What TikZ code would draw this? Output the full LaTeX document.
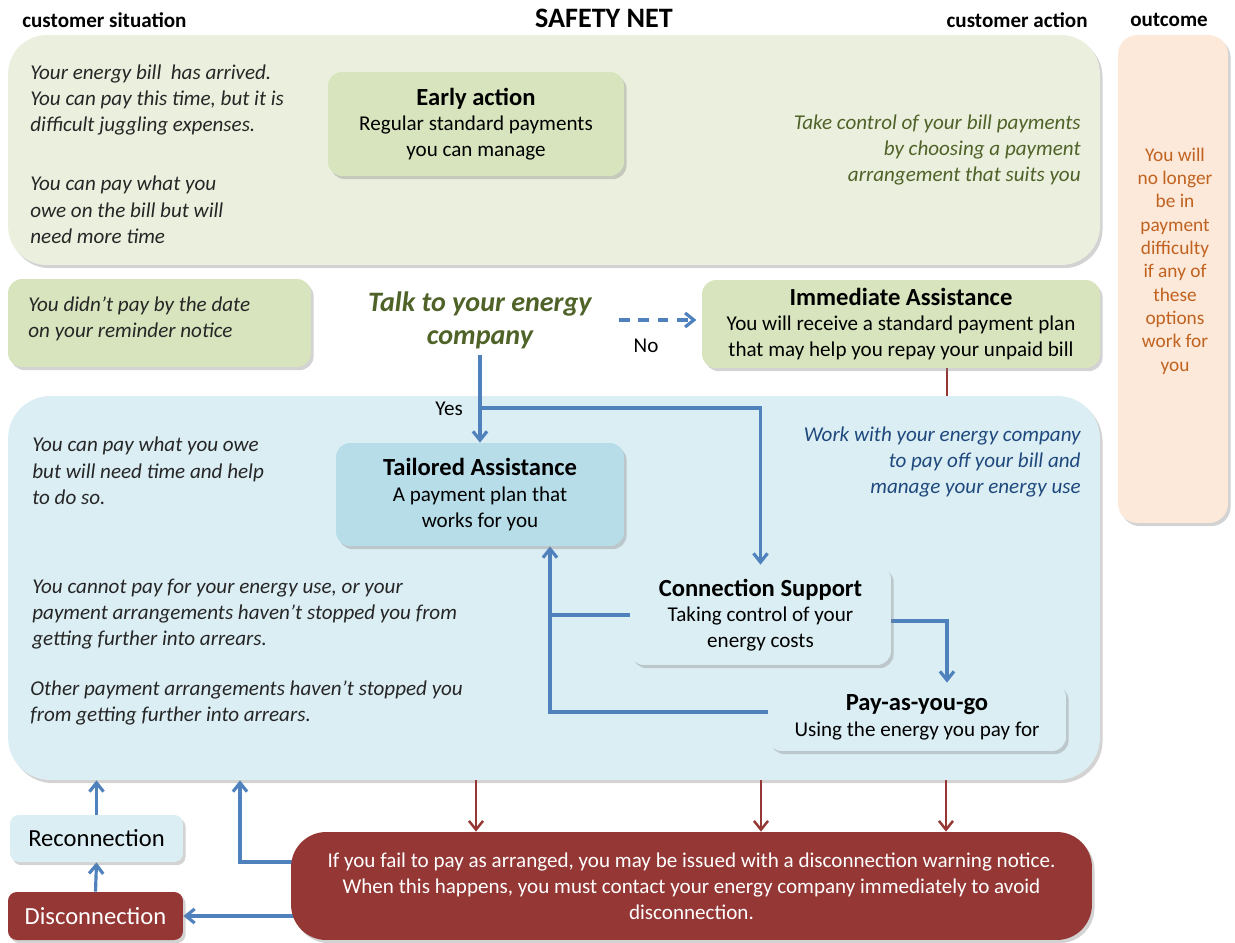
\documentclass[tikz,border=0pt]{standalone}
\usepackage{fontspec}
\setmainfont{Carlito}
\usetikzlibrary{arrows.meta,shadows}

\definecolor{panelgreen}{RGB}{235,240,222}
\definecolor{boxgreen}{RGB}{215,228,189}
\definecolor{panelblue}{RGB}{219,238,244}
\definecolor{boxblue}{RGB}{183,221,232}
\definecolor{paneloutcome}{RGB}{253,233,217}
\definecolor{textoutcome}{RGB}{192,98,32}
\definecolor{textolive}{RGB}{79,98,40}
\definecolor{textnavy}{RGB}{31,73,125}
\definecolor{textdark}{RGB}{38,38,38}
\definecolor{linkblue}{RGB}{79,129,189}
\definecolor{warnred}{RGB}{149,55,53}

\pgfdeclarelayer{panel}
\pgfdeclarelayer{background}
\pgfsetlayers{panel,background,main}

\newcommand{\boxhead}[1]{{\fontsize{14}{17}\selectfont\bfseries #1}}

\tikzset{
  softshadow/.style={drop shadow={shadow xshift=1.5pt,shadow yshift=-1.8pt,opacity=.35}},
  gpanel/.style={fill=panelgreen,rounded corners=22pt,softshadow},
  bpanel/.style={fill=panelblue,rounded corners=24pt,softshadow},
  opanel/.style={fill=paneloutcome,rounded corners=11pt,softshadow},
  gbox/.style={fill=boxgreen,rounded corners=8pt,softshadow,align=center,inner sep=0pt,text=black},
  tbox/.style={gbox,fill=boxblue},
  lbox/.style={gbox,fill=panelblue},
  rbox/.style={gbox,fill=warnred,text=white},
  head/.style={font=\fontsize{12}{14}\selectfont\bfseries,inner sep=0pt},
  sitnote/.style={anchor=west,align=left,inner sep=0pt,text=textdark,font=\fontsize{12}{15}\selectfont\itshape},
  actnote/.style={anchor=east,align=right,inner sep=0pt,font=\fontsize{12}{15}\selectfont\itshape},
  outnote/.style={align=center,inner sep=0pt,text=textoutcome,font=\fontsize{11}{13.3}\selectfont},
  talknote/.style={align=center,text=textolive,font=\fontsize{16}{18.7}\selectfont\bfseries\itshape},
  plainnote/.style={inner sep=0pt,font=\fontsize{12}{14}\selectfont},
  bluearrow/.style={draw=linkblue,line width=1.8pt,-{Straight Barb[length=5pt,width=8pt]}},
  blueline/.style={draw=linkblue,line width=1.8pt},
  redarrow/.style={draw=warnred,line width=1.4pt,-{Straight Barb[length=5pt,width=8pt]}},
  redline/.style={draw=warnred,line width=1.4pt}
}

\begin{document}
\begin{tikzpicture}[x=0.02cm,y=-0.02cm,font=\fontsize{12}{14.7}\selectfont]
\useasboundingbox (0,0) rectangle (1235,943);

\begin{pgfonlayer}{panel}
\node[gpanel,minimum width=21.84cm,minimum height=4.6cm] (greenpanel) at (554,150) {};
\node[bpanel,minimum width=21.84cm,minimum height=7.68cm] (bluepanel) at (554,588) {};
\node[opanel,minimum width=2.2cm,minimum height=9.76cm] (outpanel) at (1173,279) {};
\end{pgfonlayer}

\node[head,anchor=west] (hsit) at (22,20) {customer situation};
\node[inner sep=0pt,font=\fontsize{16}{19}\selectfont\bfseries] (title) at (604,18) {SAFETY NET};
\node[head,anchor=east] (hact) at (1088,20) {customer action};
\node[head] (hout) at (1169,20) {outcome};

\node[sitnote] (sit1) at (30,100) {Your energy bill\ \ has arrived.\\You can pay this time, but it is\\difficult juggling expenses.};
\node[gbox,minimum width=5.92cm,minimum height=2.08cm] (early) at (476,124) {\boxhead{Early action}\\Regular standard payments\\you can manage};
\node[sitnote] (sit2) at (30,210) {You can pay what you\\owe on the bill but will\\need more time};
\node[actnote,text=textolive] (act1) at (1081,150) {Take control of your bill payments\\by choosing a payment\\arrangement that suits you};
\node[outnote] (outtext) at (1175,261) {You will\\no longer\\be in\\payment\\difficulty\\if any of\\these\\options\\work for\\you};

\node[gbox,minimum width=6.06cm,minimum height=1.76cm] (late) at (159.5,323) {};
\node[sitnote] (latetext) at (28,319) {You didn’t pay by the date\\on your reminder notice};
\node[talknote] (talk) at (480,320) {Talk to your energy\\company};
\node[gbox,minimum width=7.96cm,minimum height=1.76cm] (imm) at (901,324) {\boxhead{Immediate Assistance}\\You will receive a standard payment plan\\that may help you repay your unpaid bill};
\node[plainnote] (no) at (646,346) {No};
\node[plainnote] (yeslbl) at (449,409) {Yes};

\node[sitnote] (sit3) at (32,471) {You can pay what you owe\\but will need time and help\\to do so.};
\node[tbox,minimum width=5.76cm,minimum height=2.06cm] (tailored) at (480,494.5) {\boxhead{Tailored Assistance}\\A payment plan that\\works for you};
\node[actnote,text=textnavy] (act2) at (1081,462) {Work with your energy company\\to pay off your bill and\\manage your energy use};
\node[sitnote] (sit4) at (32,614) {You cannot pay for your energy use, or your\\payment arrangements haven’t stopped you from\\getting further into arrears.};
\node[sitnote] (sit5) at (30,703) {Other payment arrangements haven’t stopped you\\from getting further into arrears.};
\node[lbox,minimum width=5.22cm,minimum height=2cm] (conn) at (760.5,615) {\boxhead{Connection Support}\\Taking control of your\\energy costs};
\node[lbox,minimum width=5.96cm,minimum height=1.36cm] (payg) at (917,717) {\boxhead{Pay-as-you-go}\\Using the energy you pay for};

\node[rbox,minimum width=16.02cm,minimum height=2.16cm,rounded corners=20pt] (warn) at (691.5,886) {If you fail to pay as arranged, you may be issued with a disconnection warning notice.\\When this happens, you must contact your energy company immediately to avoid\\disconnection.};
\node[lbox,minimum width=3.46cm,minimum height=0.94cm,rounded corners=5pt,font=\fontsize{14}{17}\selectfont] (recon) at (96.5,838.5) {Reconnection};
\node[rbox,minimum width=3.5cm,minimum height=0.96cm,rounded corners=5pt,font=\fontsize{14}{17}\selectfont] (disc) at (95.5,916) {Disconnection};

\coordinate (yes) at (480,408);
\coordinate (loop) at (550,712);
\coordinate (drop) at (947,621);
\coordinate (warnup) at (240,862);

\begin{pgfonlayer}{background}
\draw[bluearrow] (talk.south) -- (tailored.north);
\draw[bluearrow] (yes) -| (conn.north);
\draw[bluearrow,dashed,dash pattern=on 6pt off 5pt,shorten <=12pt,shorten >=3pt] (talk.east) -- (talk.east -| imm.west);
\draw[redline] (imm.south -| drop) -- (bluepanel.north -| drop);
\draw[blueline] (conn.center) -- (conn.center -| loop);
\draw[bluearrow] (payg.center |- loop) -- (loop) -- (loop |- tailored.south);
\draw[bluearrow] (conn.center |- drop) -| (payg.north -| drop);
\foreach \x [count=\i] in {476,761,946} {
  \coordinate (down\i) at (\x,800);
  \draw[redarrow] (down\i |- bluepanel.south) -- (down\i |- warn.north);
}
\draw[bluearrow] (recon.north) -- (recon.north |- bluepanel.south);
\draw[bluearrow] (disc.north) -- (recon.south);
\draw[bluearrow] (warn.center |- disc.east) -- (disc.east);
\draw[bluearrow] (warn.center |- warnup) -- (warnup) -- (warnup |- bluepanel.south);
\end{pgfonlayer}
\end{tikzpicture}
\end{document}
